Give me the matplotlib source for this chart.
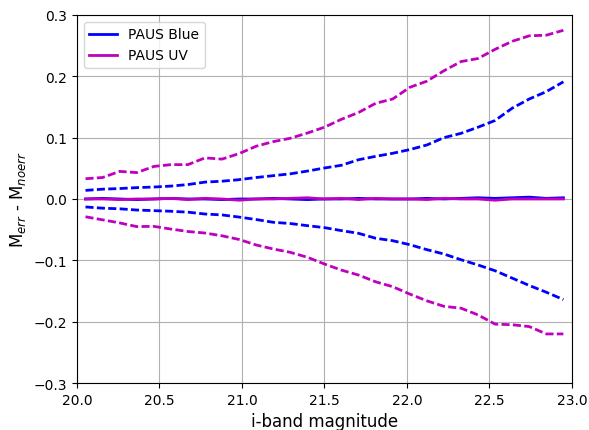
import numpy as np
import matplotlib
matplotlib.use('Agg')
import matplotlib.pyplot as plt

# magnitude bin centres: 29 bins between 20 and 23
edges = np.linspace(20, 23, 30)
mag = 0.5 * (edges[1:] + edges[:-1])

blue_mid = [0.000, 0.001, 0.000, -0.001, 0.000, 0.001, 0.000, 0.000, -0.001, 0.000,
            0.000, 0.001, 0.000, -0.001, 0.000, 0.000, 0.001, 0.000, 0.000, 0.000,
            0.001, 0.000, 0.001, 0.002, 0.001, 0.002, 0.003, 0.001, 0.002]
blue_hi = [0.014, 0.016, 0.017, 0.0185, 0.0195, 0.021, 0.0235, 0.0275, 0.029, 0.0315,
           0.035, 0.038, 0.041, 0.0455, 0.0505, 0.055, 0.064, 0.0695, 0.0745, 0.0805,
           0.088, 0.100, 0.107, 0.117, 0.128, 0.148, 0.163, 0.175, 0.191]
blue_lo = [-0.013, -0.015, -0.016, -0.018, -0.019, -0.020, -0.0215, -0.0245, -0.026, -0.0295,
           -0.0335, -0.038, -0.040, -0.0435, -0.0467, -0.0516, -0.056, -0.064, -0.068, -0.0745,
           -0.0826, -0.0897, -0.099, -0.1076, -0.117, -0.129, -0.141, -0.152, -0.164]

uv_mid = [0.000, 0.000, -0.001, 0.000, 0.000, 0.001, -0.001, 0.001, 0.000, -0.002,
          0.000, 0.000, 0.001, 0.002, 0.000, 0.001, -0.001, 0.001, 0.000, 0.000,
          -0.001, 0.001, 0.000, 0.000, -0.002, 0.000, 0.000, 0.000, 0.000]
uv_hi = [0.033, 0.035, 0.045, 0.043, 0.053, 0.056, 0.056, 0.067, 0.065, 0.074,
         0.086, 0.0935, 0.099, 0.1075, 0.117, 0.130, 0.141, 0.156, 0.163, 0.182,
         0.192, 0.209, 0.224, 0.229, 0.244, 0.257, 0.266, 0.267, 0.275]
uv_lo = [-0.029, -0.034, -0.039, -0.045, -0.0446, -0.049, -0.053, -0.0555, -0.060, -0.066,
         -0.075, -0.0815, -0.087, -0.095, -0.106, -0.116, -0.124, -0.135, -0.143, -0.155,
         -0.166, -0.175, -0.178, -0.189, -0.204, -0.205, -0.208, -0.220, -0.220]

dash = (0, (2.9, 1.2))

fig = plt.figure(figsize=(5.89, 4.31), dpi=100)
ax = fig.add_subplot(111)
fig.subplots_adjust(left=0.1307, right=0.971, top=0.963, bottom=0.109)

ax.plot(mag, blue_mid, color='b', lw=2, label='PAUS Blue')
ax.plot(mag, blue_hi, color='b', lw=2, ls=dash)
ax.plot(mag, blue_lo, color='b', lw=2, ls=dash)
ax.plot(mag, uv_mid, color='m', lw=2, label='PAUS UV')
ax.plot(mag, uv_hi, color='m', lw=2, ls=dash)
ax.plot(mag, uv_lo, color='m', lw=2, ls=dash)

ax.set_xlim(20, 23)
ax.set_ylim(-0.3, 0.3)
ax.set_xticks(np.arange(20, 23.01, 0.5))
ax.set_yticks(np.arange(-0.3, 0.31, 0.1))
ax.grid(True, color='#b0b0b0', lw=0.8)
ax.set_axisbelow(True)
ax.tick_params(labelsize=10)
ax.set_xlabel('i-band magnitude', fontsize=12)
ax.set_ylabel(r'M$_{err}$ - M$_{noerr}$', fontsize=12)
ax.legend(loc='upper left', fontsize=10)

plt.savefig('out.png')
